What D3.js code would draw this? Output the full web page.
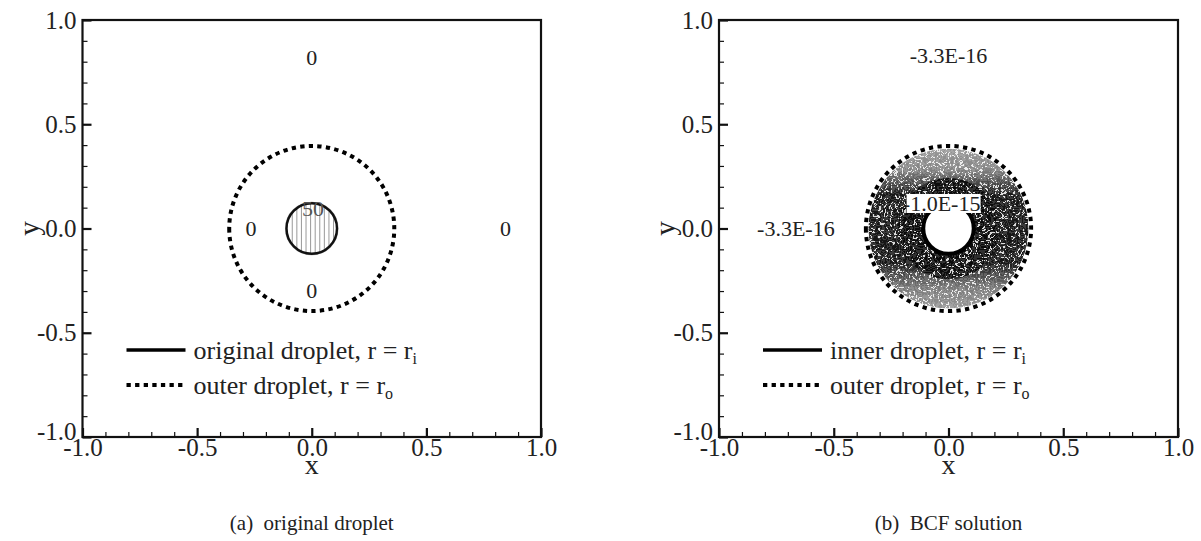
<!DOCTYPE html>
<html>
<head>
<meta charset="utf-8">
<script src="https://cdn.jsdelivr.net/npm/d3@7"></script>
<style>
  html, body { margin: 0; padding: 0; background: #fff; }
  svg, svg text { font-family: "Liberation Serif", "Tinos", "Times New Roman", "DejaVu Serif", serif; }
</style>
</head>
<body>
<svg id="fig" width="1201" height="541"></svg>
<script>
// Axis ticks shared by both panels
const majorTicks = [-1.0, -0.5, 0.0, 0.5, 1.0];
const minorTicks = [-0.9, -0.8, -0.7, -0.6, -0.4, -0.3, -0.2, -0.1, 0.1, 0.2, 0.3, 0.4, 0.6, 0.7, 0.8, 0.9];

// Droplet radii (domain units of x)
const innerRadius = 0.11;
const outerRadius = 0.36;
// Radius inside which the BCF noise contours stay dense
const denseRadius = 0.22;

// Vertical contour lines of the 50-level field inside the original droplet
const dropletContourX = [-0.085, -0.065, -0.045, -0.025, -0.005, 0.015, 0.035, 0.055, 0.075, 0.095];

// Contour labels, panel (a)
const labelsA = [
  { x: 0.0,   y: 0.82,  text: "0" },
  { x: -0.265, y: 0.0,  text: "0" },
  { x: 0.845, y: 0.0,   text: "0" },
  { x: 0.0,   y: -0.295, text: "0" },
  { x: 0.005, y: 0.095, text: "50" }
];

// Contour labels, panel (b)
const labelsB = [
  { x: 0.0,   y: 0.83,  text: "-3.3E-16" },
  { x: -0.665, y: 0.0,  text: "-3.3E-16" },
  { x: -0.03, y: 0.12,  text: "-1.0E-15", boxed: true }
];

const legendA = ["original droplet, r = r", "outer droplet, r = r"];
const legendB = ["inner droplet, r = r", "outer droplet, r = r"];
const legendSub = ["i", "o"];

const captions = ["(a)\u2002original droplet", "(b)\u2002BCF solution"];

const FONT = "Liberation Serif, Tinos, Times New Roman, DejaVu Serif, serif";

const svg = d3.select("#fig");
const defs = svg.append("defs");

// Lace-like texture: bands of a noise field, read as tangled contour lines
function laceFilter(id, freq, octaves, seed, table) {
  const f = defs.append("filter").attr("id", id)
    .attr("x", 0).attr("y", 0).attr("width", 1).attr("height", 1);
  f.append("feTurbulence").attr("type", "fractalNoise")
    .attr("baseFrequency", freq).attr("numOctaves", octaves).attr("seed", seed).attr("result", "noise");
  f.append("feColorMatrix").attr("in", "noise").attr("type", "matrix")
    .attr("values", "0 0 0 0 0  0 0 0 0 0  0 0 0 0 0  1 0 0 0 0").attr("result", "a");
  const ct = f.append("feComponentTransfer").attr("in", "a").attr("result", "bands");
  ct.append("feFuncA").attr("type", "discrete").attr("tableValues", table);
  f.append("feComposite").attr("in", "bands").attr("in2", "SourceAlpha").attr("operator", "in");
}
laceFilter("lace1", 0.09, 2, 5, "1 1 0 1 1 1 0 1 1 0 1 1 1 0 1 1");
laceFilter("lace2", 0.22, 1, 11, "0 0 0 0 1 1 0 0 1 1 0 0 1 1 0 0 0 0");

// Vertical fade: noise is lighter at top and bottom of the annulus
const vfade = defs.append("linearGradient").attr("id", "vfade")
  .attr("x1", 0).attr("y1", 0).attr("x2", 0).attr("y2", 1);
[[0, 0.4], [0.15, 0.5], [0.3, 0.95], [0.7, 0.95], [0.85, 0.55], [1, 0.4]].forEach(([o, a]) =>
  vfade.append("stop").attr("offset", o).attr("stop-color", "#fff").attr("stop-opacity", a));

const panels = [
  { range: [82.5, 541], labels: labelsA, legend: legendA, caption: captions[0], noise: false },
  { range: [719, 1178], labels: labelsB, legend: legendB, caption: captions[1], noise: true }
];
const yRange = [437, 20];

function circlePath(x, y, r) {
  const rp = x(r) - x(0);
  const cx = x(0), cy = y(0);
  return `M${cx - rp},${cy}A${rp},${rp} 0 1,0 ${cx + rp},${cy}A${rp},${rp} 0 1,0 ${cx - rp},${cy}Z`;
}

panels.forEach((p, i) => {
  const x = d3.scaleLinear().domain([-1, 1]).range(p.range);
  const y = d3.scaleLinear().domain([-1, 1]).range(yRange);
  const g = svg.append("g");
  const rPix = r => x(r) - x(0);

  // Plot frame
  g.append("rect")
    .attr("x", x(-1)).attr("y", y(1))
    .attr("width", x(1) - x(-1)).attr("height", y(-1) - y(1))
    .attr("fill", "none").attr("stroke", "#111").attr("stroke-width", 2.2);

  if (p.noise) {
    const mid = "ann" + i;
    const mask = defs.append("mask").attr("id", mid);
    mask.append("rect").attr("x", x(0) - rPix(outerRadius) - 2).attr("y", y(0) - rPix(outerRadius) - 2)
      .attr("width", 2 * rPix(outerRadius) + 4).attr("height", 2 * rPix(outerRadius) + 4)
      .attr("fill", "url(#vfade)");
    mask.append("path").attr("d", circlePath(x, y, denseRadius)).attr("fill", "#fff").attr("fill-opacity", 0.95);
    const ann = g.append("g").attr("mask", `url(#${mid})`);
    const annPath = circlePath(x, y, outerRadius - 0.012) + circlePath(x, y, innerRadius);
    ann.append("path").attr("d", annPath).attr("fill-rule", "evenodd")
      .attr("fill", "#000").attr("fill-opacity", 0.15);
    ann.append("path").attr("d", annPath).attr("fill-rule", "evenodd")
      .attr("fill", "#111").attr("filter", "url(#lace1)").attr("opacity", 0.78);
    ann.append("path").attr("d", annPath).attr("fill-rule", "evenodd")
      .attr("fill", "#000").attr("filter", "url(#lace2)").attr("opacity", 0.8);
    // inner droplet hole
    g.append("path").attr("d", circlePath(x, y, innerRadius))
      .attr("fill", "#fff").attr("stroke", "#000").attr("stroke-width", 4);
  } else {
    // contour lines inside the original droplet
    const clipId = "drop" + i;
    defs.append("clipPath").attr("id", clipId)
      .append("path").attr("d", circlePath(x, y, innerRadius));
    g.append("g").attr("clip-path", `url(#${clipId})`)
      .selectAll("line").data(dropletContourX).join("line")
      .attr("x1", d => x(d)).attr("x2", d => x(d))
      .attr("y1", y(innerRadius * 1.2)).attr("y2", y(-innerRadius * 1.2))
      .attr("stroke", "#999").attr("stroke-width", 1);
    g.append("path").attr("d", circlePath(x, y, innerRadius + 0.004))
      .attr("fill", "none").attr("stroke", "#999").attr("stroke-width", 1.2);
    g.append("path").attr("d", circlePath(x, y, innerRadius))
      .attr("fill", "none").attr("stroke", "#111").attr("stroke-width", 2.4);
  }

  // outer droplet, dotted
  g.append("path").attr("d", circlePath(x, y, outerRadius))
    .attr("fill", "none").attr("stroke", "#000").attr("stroke-width", 4)
    .attr("stroke-dasharray", "4.3 4.3");

  // contour labels
  p.labels.forEach(l => {
    if (l.boxed) {
      g.append("rect").attr("x", x(l.x) - 35).attr("y", y(l.y) - 9.5)
        .attr("width", 74).attr("height", 19).attr("fill", "#fff");
    }
    g.append("text").attr("x", x(l.x)).attr("y", y(l.y))
      .attr("text-anchor", "middle").attr("dominant-baseline", "central")
      .attr("font-family", FONT)
      .attr("font-size", 22).attr("fill", l.text === "50" ? "#555" : "#222")
      .text(l.text);
  });

  // axes: inward ticks on left and bottom
  const fmt = d => d.toFixed(1);
  const xAxis = g.append("g").attr("transform", `translate(0,${y(-1)})`)
    .call(d3.axisBottom(x).tickValues(majorTicks).tickFormat(fmt).tickSizeInner(-9).tickSizeOuter(0).tickPadding(1));
  g.append("g").attr("transform", `translate(0,${y(-1)})`)
    .call(d3.axisBottom(x).tickValues(minorTicks).tickFormat("").tickSizeInner(-5).tickSizeOuter(0));
  const yAxis = g.append("g").attr("transform", `translate(${x(-1)},0)`)
    .call(d3.axisLeft(y).tickValues(majorTicks).tickFormat(fmt).tickSizeInner(-9).tickSizeOuter(0).tickPadding(6));
  g.append("g").attr("transform", `translate(${x(-1)},0)`)
    .call(d3.axisLeft(y).tickValues(minorTicks).tickFormat("").tickSizeInner(-5).tickSizeOuter(0));
  g.selectAll(".domain").remove();
  g.selectAll(".tick line").attr("stroke", "#111").attr("stroke-width", 1.2);
  xAxis.selectAll(".tick line").attr("stroke-width", 2.2);
  yAxis.selectAll(".tick line").attr("stroke-width", 2.2);
  g.selectAll("g").attr("font-family", FONT);
  g.selectAll(".tick text").attr("font-family", FONT)
    .attr("font-size", 25).attr("fill", "#222");
  yAxis.selectAll(".tick text").filter(d => d === -1).attr("dy", "0.1em");

  // axis titles
  g.append("text").attr("x", x(0)).attr("y", y(-1) + 37)
    .attr("text-anchor", "middle").attr("font-family", FONT)
    .attr("font-size", 28).attr("fill", "#222").text("x");
  g.append("text").attr("transform", `translate(${x(-1) - 54},${y(0)}) rotate(-90)`)
    .attr("text-anchor", "middle").attr("dominant-baseline", "central")
    .attr("font-family", FONT).attr("font-size", 29).attr("fill", "#222").text("y");

  // legend
  const lx = x(-1) + 44, ly = [350, 385];
  p.legend.forEach((t, k) => {
    g.append("line").attr("x1", lx).attr("x2", lx + 59).attr("y1", ly[k]).attr("y2", ly[k])
      .attr("stroke", "#000").attr("stroke-width", k === 0 ? 3.5 : 4)
      .attr("stroke-dasharray", k === 0 ? null : "4.3 4.3");
    const tx = g.append("text").attr("x", lx + 67).attr("y", ly[k])
      .attr("dominant-baseline", "central").attr("font-family", FONT)
      .attr("font-size", 26).attr("fill", "#222");
    tx.append("tspan").text(t);
    tx.append("tspan").attr("dy", 8).attr("font-size", 16).text(legendSub[k]);
  });

  // caption
  svg.append("text").attr("x", x(0)).attr("y", 530)
    .attr("text-anchor", "middle").attr("font-family", FONT)
    .attr("font-size", 21).attr("fill", "#222").text(p.caption);
});
</script>
</body>
</html>
